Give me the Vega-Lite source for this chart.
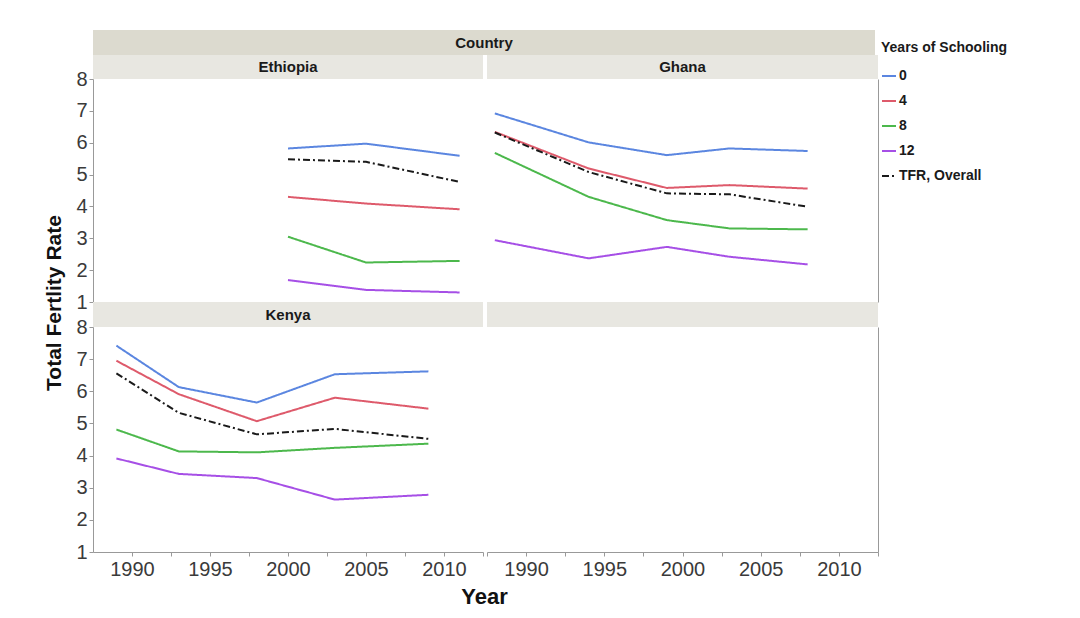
{
  "$schema": "https://vega.github.io/schema/vega-lite/v6.json",
  "background": "white",
  "padding": {"left": 44, "top": 30, "right": 10, "bottom": 8},
  "data": {"values": [
    {"Country": "Ethiopia", "Year": 2000, "group": "0", "TFR": 5.82},
    {"Country": "Ethiopia", "Year": 2005, "group": "0", "TFR": 5.97},
    {"Country": "Ethiopia", "Year": 2011, "group": "0", "TFR": 5.59},
    {"Country": "Ethiopia", "Year": 2000, "group": "4", "TFR": 4.30},
    {"Country": "Ethiopia", "Year": 2005, "group": "4", "TFR": 4.09},
    {"Country": "Ethiopia", "Year": 2011, "group": "4", "TFR": 3.91},
    {"Country": "Ethiopia", "Year": 2000, "group": "8", "TFR": 3.05},
    {"Country": "Ethiopia", "Year": 2005, "group": "8", "TFR": 2.24},
    {"Country": "Ethiopia", "Year": 2011, "group": "8", "TFR": 2.29},
    {"Country": "Ethiopia", "Year": 2000, "group": "12", "TFR": 1.69},
    {"Country": "Ethiopia", "Year": 2005, "group": "12", "TFR": 1.38},
    {"Country": "Ethiopia", "Year": 2011, "group": "12", "TFR": 1.30},
    {"Country": "Ethiopia", "Year": 2000, "group": "TFR, Overall", "TFR": 5.48},
    {"Country": "Ethiopia", "Year": 2005, "group": "TFR, Overall", "TFR": 5.40},
    {"Country": "Ethiopia", "Year": 2011, "group": "TFR, Overall", "TFR": 4.77},
    {"Country": "Ghana", "Year": 1988, "group": "0", "TFR": 6.92},
    {"Country": "Ghana", "Year": 1994, "group": "0", "TFR": 6.01},
    {"Country": "Ghana", "Year": 1999, "group": "0", "TFR": 5.61},
    {"Country": "Ghana", "Year": 2003, "group": "0", "TFR": 5.82},
    {"Country": "Ghana", "Year": 2008, "group": "0", "TFR": 5.74},
    {"Country": "Ghana", "Year": 1988, "group": "4", "TFR": 6.34},
    {"Country": "Ghana", "Year": 1994, "group": "4", "TFR": 5.19},
    {"Country": "Ghana", "Year": 1999, "group": "4", "TFR": 4.58},
    {"Country": "Ghana", "Year": 2003, "group": "4", "TFR": 4.67},
    {"Country": "Ghana", "Year": 2008, "group": "4", "TFR": 4.56},
    {"Country": "Ghana", "Year": 1988, "group": "8", "TFR": 5.68},
    {"Country": "Ghana", "Year": 1994, "group": "8", "TFR": 4.30},
    {"Country": "Ghana", "Year": 1999, "group": "8", "TFR": 3.57},
    {"Country": "Ghana", "Year": 2003, "group": "8", "TFR": 3.31},
    {"Country": "Ghana", "Year": 2008, "group": "8", "TFR": 3.28},
    {"Country": "Ghana", "Year": 1988, "group": "12", "TFR": 2.94},
    {"Country": "Ghana", "Year": 1994, "group": "12", "TFR": 2.37},
    {"Country": "Ghana", "Year": 1999, "group": "12", "TFR": 2.73},
    {"Country": "Ghana", "Year": 2003, "group": "12", "TFR": 2.42},
    {"Country": "Ghana", "Year": 2008, "group": "12", "TFR": 2.18},
    {"Country": "Ghana", "Year": 1988, "group": "TFR, Overall", "TFR": 6.32},
    {"Country": "Ghana", "Year": 1994, "group": "TFR, Overall", "TFR": 5.08},
    {"Country": "Ghana", "Year": 1999, "group": "TFR, Overall", "TFR": 4.41},
    {"Country": "Ghana", "Year": 2003, "group": "TFR, Overall", "TFR": 4.38},
    {"Country": "Ghana", "Year": 2008, "group": "TFR, Overall", "TFR": 3.99},
    {"Country": "Kenya", "Year": 1989, "group": "0", "TFR": 7.42},
    {"Country": "Kenya", "Year": 1993, "group": "0", "TFR": 6.13},
    {"Country": "Kenya", "Year": 1998, "group": "0", "TFR": 5.65},
    {"Country": "Kenya", "Year": 2003, "group": "0", "TFR": 6.53},
    {"Country": "Kenya", "Year": 2009, "group": "0", "TFR": 6.62},
    {"Country": "Kenya", "Year": 1989, "group": "4", "TFR": 6.95},
    {"Country": "Kenya", "Year": 1993, "group": "4", "TFR": 5.91},
    {"Country": "Kenya", "Year": 1998, "group": "4", "TFR": 5.07},
    {"Country": "Kenya", "Year": 2003, "group": "4", "TFR": 5.80},
    {"Country": "Kenya", "Year": 2009, "group": "4", "TFR": 5.46},
    {"Country": "Kenya", "Year": 1989, "group": "8", "TFR": 4.81},
    {"Country": "Kenya", "Year": 1993, "group": "8", "TFR": 4.13},
    {"Country": "Kenya", "Year": 1998, "group": "8", "TFR": 4.10},
    {"Country": "Kenya", "Year": 2003, "group": "8", "TFR": 4.24},
    {"Country": "Kenya", "Year": 2009, "group": "8", "TFR": 4.37},
    {"Country": "Kenya", "Year": 1989, "group": "12", "TFR": 3.91},
    {"Country": "Kenya", "Year": 1993, "group": "12", "TFR": 3.43},
    {"Country": "Kenya", "Year": 1998, "group": "12", "TFR": 3.30},
    {"Country": "Kenya", "Year": 2003, "group": "12", "TFR": 2.63},
    {"Country": "Kenya", "Year": 2009, "group": "12", "TFR": 2.78},
    {"Country": "Kenya", "Year": 1989, "group": "TFR, Overall", "TFR": 6.56},
    {"Country": "Kenya", "Year": 1993, "group": "TFR, Overall", "TFR": 5.33},
    {"Country": "Kenya", "Year": 1998, "group": "TFR, Overall", "TFR": 4.66},
    {"Country": "Kenya", "Year": 2003, "group": "TFR, Overall", "TFR": 4.83},
    {"Country": "Kenya", "Year": 2009, "group": "TFR, Overall", "TFR": 4.52}
  ]},
  "spacing": 9,
  "hconcat": [
    {
      "width": 22, "height": 546,
      "data": {"values": [{"label": "Total Fertlity Rate"}]},
      "mark": {"type": "text", "angle": 270, "fontSize": 21, "fontWeight": "bold", "color": "#111"},
      "encoding": {"text": {"field": "label"}}
    },
    {
      "spacing": 0,
      "vconcat": [
        {
          "width": 782, "height": 25,
          "view": {"fill": "#dcdacf", "stroke": null},
          "data": {"values": [{"label": "Country"}]},
          "mark": {"type": "text", "fontSize": 15, "fontWeight": "bold", "color": "#1a1a1a"},
          "encoding": {
            "text": {"field": "label"},
            "y": {"field": "label", "type": "nominal", "axis": {"title": null, "labelExpr": "'8'", "labelFontSize": 20, "labelColor": "transparent", "tickSize": 4, "tickColor": "transparent", "domain": false, "labelPadding": 2}}
          }
        },
        {
          "spacing": 2,
          "hconcat": [
            {
              "bounds": "flush",
              "spacing": 0,
              "vconcat": [
                {
                  "width": 390, "height": 24,
                  "view": {"fill": "#e8e7e1", "stroke": null},
                  "data": {"values": [{"label": "Ethiopia"}]},
                  "mark": {"type": "text", "fontSize": 15, "fontWeight": "bold", "color": "#1a1a1a"},
                  "encoding": {"text": {"field": "label"}}
                },
                {
                  "width": 390, "height": 223,
                  "transform": [{"filter": "datum.Country == 'Ethiopia'"}],
                  "mark": {"type": "line", "strokeWidth": 2},
                  "encoding": {
                    "x": {"field": "Year", "type": "quantitative", "scale": {"domain": [1987.5, 2012.5], "nice": false, "zero": false}, "axis": null},
                    "y": {"field": "TFR", "type": "quantitative", "scale": {"domain": [1, 8], "nice": false, "zero": false},
                      "axis": {"title": null, "values": [1,2,3,4,5,6,7,8], "grid": false, "labelFontSize": 20, "labelColor": "#3a3a3a", "tickSize": 4, "tickColor": "#999", "domainColor": "#999", "labelPadding": 2}},
                    "color": {"field": "group", "type": "nominal", "scale": {"domain": ["0","4","8","12","TFR, Overall"], "range": ["#5b86e0","#de5a6b","#4cb84c","#a64fe6","#1a1a1a"]}, "title": "Years of Schooling"},
                    "strokeDash": {"field": "group", "type": "nominal", "scale": {"domain": ["0","4","8","12","TFR, Overall"], "range": [[1,0],[1,0],[1,0],[1,0],[7,3,2,3]]}, "title": "Years of Schooling"}
                  }
                },
                {
                  "width": 390, "height": 25,
                  "view": {"fill": "#e8e7e1", "stroke": null},
                  "data": {"values": [{"label": "Kenya"}]},
                  "mark": {"type": "text", "fontSize": 15, "fontWeight": "bold", "color": "#1a1a1a"},
                  "encoding": {"text": {"field": "label"}}
                },
                {
                  "width": 390, "height": 225,
                  "transform": [{"filter": "datum.Country == 'Kenya'"}],
                  "mark": {"type": "line", "strokeWidth": 2},
                  "encoding": {
                    "x": {"field": "Year", "type": "quantitative", "scale": {"domain": [1987.5, 2012.5], "nice": false, "zero": false},
                      "axis": {"title": null, "values": [1990,1992.5,1995,1997.5,2000,2002.5,2005,2007.5,2010,2012.5], "format": "d", "labelExpr": "datum.value % 5 === 0 ? datum.label : ''", "grid": false, "labelFontSize": 20, "labelColor": "#3a3a3a", "tickSize": 4, "tickColor": "#999", "domainColor": "#999", "labelPadding": 3}},
                    "y": {"field": "TFR", "type": "quantitative", "scale": {"domain": [1, 8], "nice": false, "zero": false},
                      "axis": {"title": null, "values": [1,2,3,4,5,6,7,8], "grid": false, "labelFontSize": 20, "labelColor": "#3a3a3a", "tickSize": 4, "tickColor": "#999", "domainColor": "#999", "labelPadding": 2}},
                    "color": {"field": "group", "type": "nominal", "scale": {"domain": ["0","4","8","12","TFR, Overall"], "range": ["#5b86e0","#de5a6b","#4cb84c","#a64fe6","#1a1a1a"]}, "title": "Years of Schooling"},
                    "strokeDash": {"field": "group", "type": "nominal", "scale": {"domain": ["0","4","8","12","TFR, Overall"], "range": [[1,0],[1,0],[1,0],[1,0],[7,3,2,3]]}, "title": "Years of Schooling"}
                  }
                }
              ]
            },
            {
              "bounds": "flush",
              "spacing": 0,
              "vconcat": [
                {
                  "width": 391, "height": 24,
                  "view": {"fill": "#e8e7e1", "stroke": null},
                  "data": {"values": [{"label": "Ghana"}]},
                  "mark": {"type": "text", "fontSize": 15, "fontWeight": "bold", "color": "#1a1a1a"},
                  "encoding": {"text": {"field": "label"}}
                },
                {
                  "width": 391, "height": 223,
                  "transform": [{"filter": "datum.Country == 'Ghana'"}],
                  "mark": {"type": "line", "strokeWidth": 2},
                  "encoding": {
                    "x": {"field": "Year", "type": "quantitative", "scale": {"domain": [1987.5, 2012.5], "nice": false, "zero": false}, "axis": null},
                    "y": {"field": "TFR", "type": "quantitative", "scale": {"domain": [1, 8], "nice": false, "zero": false},
                      "axis": {"orient": "right", "title": null, "labels": false, "ticks": false, "grid": false, "domainColor": "#999"}},
                    "color": {"field": "group", "type": "nominal", "scale": {"domain": ["0","4","8","12","TFR, Overall"], "range": ["#5b86e0","#de5a6b","#4cb84c","#a64fe6","#1a1a1a"]}, "title": "Years of Schooling"},
                    "strokeDash": {"field": "group", "type": "nominal", "scale": {"domain": ["0","4","8","12","TFR, Overall"], "range": [[1,0],[1,0],[1,0],[1,0],[7,3,2,3]]}, "title": "Years of Schooling"}
                  }
                },
                {
                  "width": 391, "height": 25,
                  "view": {"fill": "#e8e7e1", "stroke": null},
                  "data": {"values": [{"label": ""}]},
                  "mark": {"type": "text", "fontSize": 15, "fontWeight": "bold", "color": "#1a1a1a"},
                  "encoding": {"text": {"field": "label"}}
                },
                {
                  "width": 391, "height": 225,
                  "transform": [{"filter": "datum.Country == 'none'"}],
                  "mark": {"type": "line", "strokeWidth": 2},
                  "encoding": {
                    "x": {"field": "Year", "type": "quantitative", "scale": {"domain": [1987.5, 2012.5], "nice": false, "zero": false},
                      "axis": {"title": null, "values": [1987.5,1990,1992.5,1995,1997.5,2000,2002.5,2005,2007.5,2010,2012.5], "format": "d", "labelExpr": "datum.value % 5 === 0 ? datum.label : ''", "grid": false, "labelFontSize": 20, "labelColor": "#3a3a3a", "tickSize": 4, "tickColor": "#999", "domainColor": "#999", "labelPadding": 3}},
                    "y": {"field": "TFR", "type": "quantitative", "scale": {"domain": [1, 8], "nice": false, "zero": false},
                      "axis": {"orient": "right", "title": null, "labels": false, "ticks": false, "grid": false, "domainColor": "#999"}},
                    "color": {"field": "group", "type": "nominal", "scale": {"domain": ["0","4","8","12","TFR, Overall"], "range": ["#5b86e0","#de5a6b","#4cb84c","#a64fe6","#1a1a1a"]}, "title": "Years of Schooling"},
                    "strokeDash": {"field": "group", "type": "nominal", "scale": {"domain": ["0","4","8","12","TFR, Overall"], "range": [[1,0],[1,0],[1,0],[1,0],[7,3,2,3]]}, "title": "Years of Schooling"}
                  }
                }
              ]
            }
          ]
        },
        {
          "width": 783, "height": 36,
          "data": {"values": [{"label": "Year"}]},
          "mark": {"type": "text", "fontSize": 22, "fontWeight": "bold", "color": "#111"},
          "encoding": {
            "text": {"field": "label"},
            "y": {"field": "label", "type": "nominal", "axis": {"title": null, "labelExpr": "'8'", "labelFontSize": 20, "labelColor": "transparent", "tickSize": 4, "tickColor": "transparent", "domain": false, "labelPadding": 2}}
          }
        }
      ]
    }
  ],
  "resolve": {"scale": {"color": "shared", "strokeDash": "shared"}},
  "config": {
    "font": "Liberation Sans",
    "view": {"stroke": null},
    "legend": {
      "orient": "right", "offset": -9, "padding": 11,
      "titleFontSize": 14, "titleFontWeight": "bold", "titleColor": "#1a1a1a", "titlePadding": 13,
      "labelFontSize": 14, "labelFontWeight": "bold", "labelColor": "#1a1a1a",
      "symbolType": "stroke", "symbolSize": 196, "symbolStrokeWidth": 2, "rowPadding": 10, "labelOffset": 2
    }
  }
}
